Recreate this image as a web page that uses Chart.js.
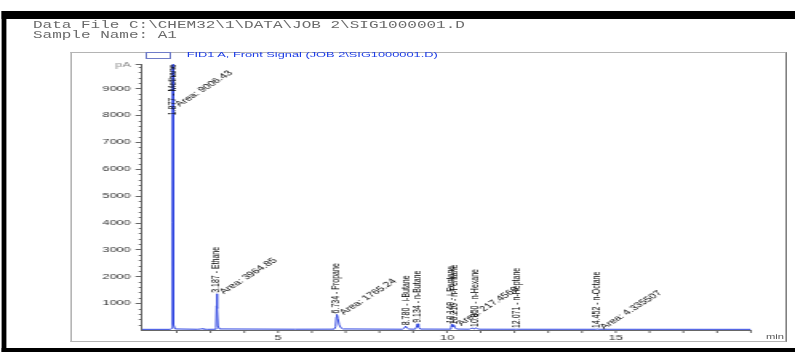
<!DOCTYPE html>
<html>
<head>
<meta charset="utf-8">
<script src="https://cdn.jsdelivr.net/npm/chart.js@4.4.1/dist/chart.umd.min.js"></script>
<style>
  html, body { margin: 0; padding: 0; background: #fff; overflow: hidden; }
  body { width: 795px; height: 352px; }
  /* the reference is a screenshot stretched sideways, so the whole sheet is scaled */
  #sheet { position: absolute; left: 0; top: 0; width: 497px; height: 352px;
           transform: scaleX(1.5996); transform-origin: 0 0; }
  .blk { position: absolute; background: #000; }
  .hdr { position: absolute; left: 20.6px; font: 10px/10px "Courier New", "Liberation Mono", monospace;
         color: #6a6a6a; white-space: pre; }
  #frame { position: absolute; left: 43.8px; top: 52px; width: 446px; height: 288px;
           border: 1px solid #b4b4b4; border-right: 1.6px solid #808080; }
  #legbox { position: absolute; left: 90.6px; top: 52px; width: 14px; height: 5px; border: 1px solid #6f7cc8; }
  #legtxt { position: absolute; left: 116.7px; top: 51px; font: 8px/8px Arial, "Liberation Sans", sans-serif;
            color: #1b3be6; white-space: pre; }
  #unit { position: absolute; left: 478.9px; top: 333.4px; font: 7px/7px Arial, "Liberation Sans", sans-serif; color: #555; }
  #myChart { position: absolute; left: 0; top: 0; }
</style>
</head>
<body>
<div id="sheet">
  <div class="blk" style="left:0.6px; top:11px; width:497px; height:8px;"></div>
  <div class="blk" style="left:0.6px; top:11px; width:3.8px; height:341px;"></div>
  <div class="blk" style="left:0.6px; top:347.5px; width:497px; height:5px;"></div>
  <div class="hdr" style="top:20.6px;">Data File C:\CHEM32\1\DATA\JOB 2\SIG1000001.D</div>
  <div class="hdr" style="top:30.8px;">Sample Name: A1</div>
  <div id="frame"></div>
  <div id="legbox"></div>
  <div id="legtxt">FID1 A, Front Signal (JOB 2\SIG1000001.D)</div>
  <div id="unit">min</div>
  <canvas id="myChart" width="497" height="352"></canvas>
</div>
<script>
// retention time (min) and detector signal (pA) of the trace
const times = [
  0.97, 1.80, 1.86, 1.875, 1.885, 1.895, 1.91, 1.95, 2.60, 2.70, 2.74, 2.78, 2.90,
  3.12, 3.16, 3.178, 3.19, 3.20, 3.22, 3.26, 5.50, 6.66, 6.70, 6.725, 6.74, 6.77,
  6.81, 6.86, 6.92, 8.68, 8.74, 8.78, 8.82, 8.88, 9.06, 9.10, 9.13, 9.16, 9.21,
  10.08, 10.12, 10.145, 10.17, 10.195, 10.215, 10.24, 10.29, 10.66, 10.71, 10.75,
  10.79, 10.83, 10.87, 10.91, 10.97, 12.04, 12.07, 12.10, 14.42, 14.45, 14.49, 19.0
];
const signal = [
  25, 25, 60, 4000, 9900, 4500, 200, 40, 28, 35, 50, 35, 26,
  28, 90, 900, 1350, 800, 150, 40, 30, 32, 120, 480, 580, 430,
  190, 80, 40, 30, 70, 140, 70, 35, 32, 110, 230, 110, 35,
  32, 90, 210, 120, 140, 170, 80, 35, 30, 55, 70,
  45, 60, 75, 45, 30, 28, 34, 28, 27, 33, 27, 25
];

// integrated peaks
const peakTimes = [1.877, 3.187, 6.734, 8.780, 9.134, 10.149, 10.216, 10.850, 12.071, 14.452];
const peakNames = ['Methane', 'Ethane', 'Propane', 'i-Butane', 'n-Butane', 'i-Pentane', 'n-Pentane', 'n-Hexane', 'n-Heptane', 'n-Octane'];
const peakAreas = ['9006.43', '3964.85', '1765.24', '', '', '', '217.4569', '', '', '4.335507'];

// axis ticks
const minuteTicks = [2, 3, 4, 5, 6, 7, 8, 9, 10, 11, 12, 13, 14, 15, 16, 17, 18, 19];
const minuteLabels = [5, 10, 15];
const pATicks = [200, 400, 600, 800, 1000, 1200, 1400, 1600, 1800, 2000, 2200, 2400, 2600, 2800, 3000,
  3200, 3400, 3600, 3800, 4000, 4200, 4400, 4600, 4800, 5000, 5200, 5400, 5600, 5800, 6000,
  6200, 6400, 6600, 6800, 7000, 7200, 7400, 7600, 7800, 8000, 8200, 8400, 8600, 8800, 9000,
  9200, 9400, 9600, 9800, 9900];
const pALabels = [1000, 2000, 3000, 4000, 5000, 6000, 7000, 8000, 9000];
const pAMax = 9900;

const sans = 'Arial, "Liberation Sans", sans-serif';

// major / minor tick marks
const tickMarks = {
  id: 'tickMarks',
  afterDraw(chart) {
    const ctx = chart.ctx, a = chart.chartArea;
    const xs = chart.scales.x, ys = chart.scales.y;
    ctx.save();
    ctx.strokeStyle = '#666';
    ctx.lineWidth = 1;
    ctx.beginPath();
    pATicks.forEach(v => {
      const y = Math.round(ys.getPixelForValue(v)) + 0.5;
      const len = (v % 1000 === 0 || v === pAMax) ? 4 : 2;
      ctx.moveTo(a.left - len, y);
      ctx.lineTo(a.left, y);
    });
    minuteTicks.forEach(v => {
      const x = xs.getPixelForValue(v);
      ctx.moveTo(x, a.bottom);
      ctx.lineTo(x, a.bottom + 3);
    });
    ctx.stroke();
    ctx.restore();
  }
};

// peak annotations
const peakText = {
  id: 'peakText',
  afterDatasetsDraw(chart) {
    const ctx = chart.ctx, a = chart.chartArea;
    const xs = chart.scales.x, ys = chart.scales.y;
    ctx.save();
    ctx.fillStyle = '#000';
    peakTimes.forEach((t, i) => {
      const near = signal.filter((v, j) => Math.abs(times[j] - t) < 0.035);
      const apex = Math.max(...near);
      const text = t.toFixed(3) + ' - ' + peakNames[i];
      ctx.font = '7px ' + sans;
      const len = ctx.measureText(text).width;
      const px = xs.getPixelForValue(t);
      let base = ys.getPixelForValue(Math.min(apex, pAMax)) - 1;
      let areaY = base;
      if (base - len < a.top) {
        base = a.top + len;
        areaY = base - 10;
      }
      ctx.save();
      ctx.translate(px, base);
      ctx.rotate(-Math.PI / 2);
      ctx.textAlign = 'left';
      ctx.textBaseline = 'middle';
      ctx.fillText(text, 0, 0);
      ctx.restore();
      if (peakAreas[i]) {
        ctx.save();
        ctx.translate(px + 3, areaY);
        ctx.rotate(-Math.PI / 4);
        ctx.font = '7.5px ' + sans;
        ctx.textAlign = 'left';
        ctx.textBaseline = 'middle';
        ctx.fillText('Area: ' + peakAreas[i], 0, 0);
        ctx.restore();
      }
    });
    ctx.restore();
  }
};

const ctx = document.getElementById('myChart').getContext('2d');
new Chart(ctx, {
  type: 'line',
  data: {
    datasets: [{
      label: 'FID1 A, Front Signal (JOB 2\\SIG1000001.D)',
      data: times.map((t, i) => ({ x: t, y: signal[i] })),
      borderColor: '#3046e0',
      borderWidth: 1,
      pointRadius: 0,
      tension: 0
    }]
  },
  options: {
    responsive: false,
    animation: false,
    layout: { padding: { left: 48.75, right: 27.6, top: 64.3, bottom: 0 } },
    plugins: { legend: { display: false }, tooltip: { enabled: false } },
    scales: {
      x: {
        type: 'linear',
        min: 0.97,
        max: 19,
        afterBuildTicks: s => { s.ticks = minuteTicks.map(v => ({ value: v })); },
        afterFit: s => { s.height = 22; },
        grid: { display: false, drawTicks: false },
        border: { display: true, color: '#666', width: 1 },
        ticks: {
          autoSkip: false,
          maxRotation: 0,
          padding: 3,
          color: '#333',
          font: { family: sans, size: 8 },
          callback: v => minuteLabels.includes(v) ? String(v) : ''
        }
      },
      y: {
        type: 'linear',
        min: 0,
        max: pAMax,
        afterBuildTicks: s => { s.ticks = pATicks.map(v => ({ value: v })); },
        afterFit: s => { s.width = 40; },
        grid: { display: false, drawTicks: false },
        border: { display: true, color: '#666', width: 1 },
        ticks: {
          autoSkip: false,
          padding: 7,
          font: { family: sans, size: 8 },
          color: c => c.tick && c.tick.value === pAMax ? '#888' : '#333',
          callback: v => v === pAMax ? 'pA' : (pALabels.includes(v) ? String(v) : '')
        }
      }
    }
  },
  plugins: [tickMarks, peakText]
});
</script>
</body>
</html>
